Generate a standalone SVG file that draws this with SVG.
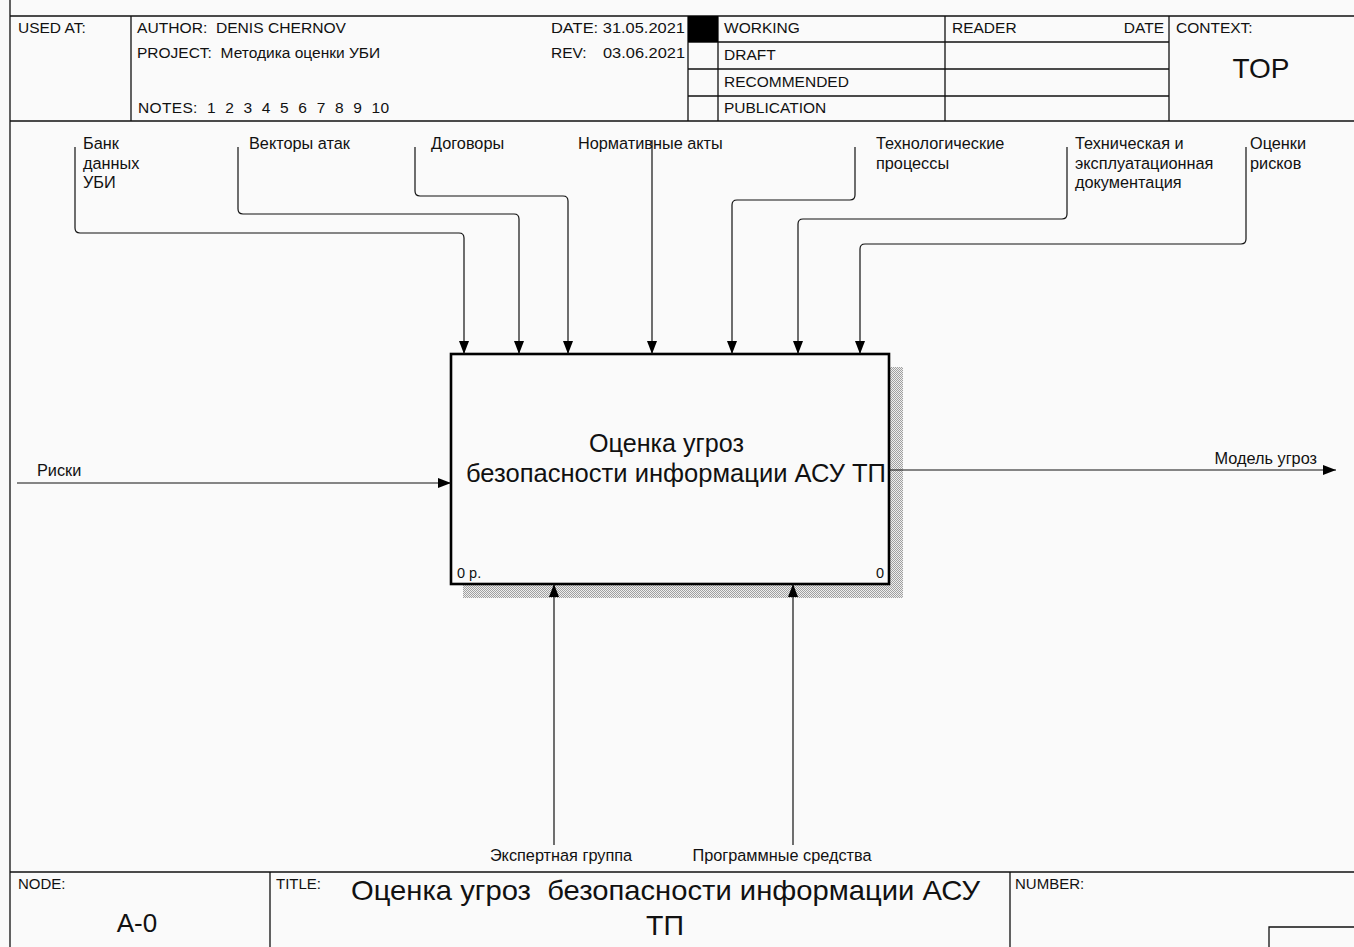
<svg xmlns="http://www.w3.org/2000/svg" width="1354" height="947" viewBox="0 0 1354 947">
<style>
text{font-family:"Liberation Sans",Arial,sans-serif;fill:#111;white-space:pre}
.h{font-size:15.5px}
.s{font-size:15px}
.l{font-size:16.3px}
.frame{stroke:#111;stroke-width:1.3;fill:none}
.conn path{stroke:#111;stroke-width:1.2;fill:none}
.arr{marker-end:url(#ah)}
</style>
<defs>
<marker id="ah" markerUnits="userSpaceOnUse" markerWidth="13" markerHeight="10" refX="13" refY="5" orient="auto">
<path d="M0,0 L13,5 L0,10 z" fill="#000"/>
</marker>
<pattern id="hatch" width="2" height="2" patternUnits="userSpaceOnUse">
<rect width="2" height="2" fill="#eeeeee"/>
<rect width="1" height="1" fill="#a0a0a0"/>
<rect x="1" y="1" width="1" height="1" fill="#a0a0a0"/>
</pattern>
</defs>
<rect width="1354" height="947" fill="#fafafa"/>
<g id="header">
<path class="frame" d="M10,0 V947 M10,16 H1354 M10,121 H1354 M131,16 V121 M688,16 V121 M718,16 V121 M945,16 V121 M1169,16 V121 M688,42 H1169 M688,69 H1169 M688,96 H1169"/>
<rect x="688" y="16" width="30" height="26" fill="#000"/>
<text class="h" x="18" y="33">USED AT:</text>
<text class="h" x="137" y="33" textLength="209" lengthAdjust="spacingAndGlyphs">AUTHOR:  DENIS CHERNOV</text>
<text class="h" x="137" y="58">PROJECT:  Методика оценки УБИ</text>
<text class="h" x="138" y="113" textLength="251" lengthAdjust="spacing">NOTES:  1  2  3  4  5  6  7  8  9  10</text>
<text class="h" x="551" y="33" textLength="134" lengthAdjust="spacingAndGlyphs">DATE: 31.05.2021</text>
<text class="h" x="551" y="58">REV:</text>
<text class="h" x="603" y="58" textLength="82" lengthAdjust="spacingAndGlyphs">03.06.2021</text>
<text class="h" x="724" y="33">WORKING</text>
<text class="h" x="724" y="60">DRAFT</text>
<text class="h" x="724" y="87">RECOMMENDED</text>
<text class="h" x="724" y="113">PUBLICATION</text>
<text class="h" x="952" y="33">READER</text>
<text class="h" x="1164" y="33" text-anchor="end">DATE</text>
<text class="h" x="1176" y="33">CONTEXT:</text>
<text x="1261" y="78" text-anchor="middle" font-size="28">TOP</text>
</g>
<g id="footer">
<path class="frame" d="M10,872 H1354 M270,872 V947 M1010,872 V947 M1269,947 V927 H1354"/>
<text class="s" x="18" y="889">NODE:</text>
<text x="137" y="932" text-anchor="middle" font-size="26">A-0</text>
<text class="s" x="276" y="889">TITLE:</text>
<text x="351" y="900" font-size="28.5" textLength="629" lengthAdjust="spacingAndGlyphs">Оценка угроз  безопасности информации АСУ</text>
<text x="665" y="935" text-anchor="middle" font-size="28.5">ТП</text>
<text class="s" x="1015" y="889">NUMBER:</text>
</g>
<g id="node-A0">
<path d="M889,367 H903 V598 H463 V584 H889 Z" fill="url(#hatch)"/>
<rect x="451" y="354" width="438" height="230" fill="#fafafa" stroke="#000" stroke-width="2.6"/>
<text x="589" y="452" font-size="25.5" textLength="155" lengthAdjust="spacingAndGlyphs">Оценка угроз</text>
<text x="466" y="482" font-size="25.5" textLength="420" lengthAdjust="spacingAndGlyphs">безопасности информации АСУ ТП</text>
<text x="457" y="578" font-size="14.5">0 р.</text>
<text x="884" y="578" text-anchor="end" font-size="14.5">0</text>
</g>
<g id="connectors" class="conn">
<path class="arr" d="M75,147 V228 Q75,233 80,233 H459 Q464,233 464,238 V354"/>
<path class="arr" d="M238,147 V209 Q238,214 243,214 H514 Q519,214 519,219 V354"/>
<path class="arr" d="M415,147 V191 Q415,196 420,196 H563 Q568,196 568,201 V354"/>
<path class="arr" d="M652,140 V354"/>
<path class="arr" d="M855,147 V195 Q855,200 850,200 H737 Q732,200 732,205 V354"/>
<path class="arr" d="M1067,147 V214 Q1067,219 1062,219 H803 Q798,219 798,224 V354"/>
<path class="arr" d="M1246,147 V239 Q1246,244 1241,244 H865 Q860,244 860,249 V354"/>
<path class="arr" d="M17,483 H451"/>
<path class="arr" d="M889,470 H1336"/>
<path class="arr" d="M554,845 V584"/>
<path class="arr" d="M793,845 V584"/>
</g>
<g id="labels">
<text class="l" x="83" y="149">Банк</text>
<text class="l" x="83" y="169">данных</text>
<text class="l" x="83" y="188">УБИ</text>
<text class="l" x="249" y="149">Векторы атак</text>
<text class="l" x="431" y="149">Договоры</text>
<text class="l" x="578" y="149">Нормативные акты</text>
<text class="l" x="876" y="149">Технологические</text>
<text class="l" x="876" y="169">процессы</text>
<text class="l" x="1075" y="149">Техническая и</text>
<text class="l" x="1075" y="169">эксплуатационная</text>
<text class="l" x="1075" y="188">документация</text>
<text class="l" x="1250" y="149">Оценки</text>
<text class="l" x="1250" y="169">рисков</text>
<text class="l" x="37" y="476">Риски</text>
<text class="l" x="1317" y="464" text-anchor="end">Модель угроз</text>
<text class="l" x="561" y="861" text-anchor="middle">Экспертная группа</text>
<text class="l" x="782" y="861" text-anchor="middle">Программные средства</text>
</g>
</svg>
